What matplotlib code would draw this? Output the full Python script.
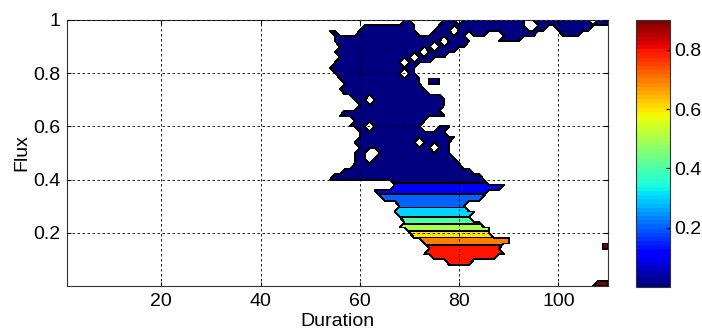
import numpy as np
import matplotlib
matplotlib.use("Agg")
import matplotlib.pyplot as plt
from matplotlib.colors import Normalize
from matplotlib.cm import ScalarMappable

plt.rcParams["font.family"] = ["Liberation Sans", "DejaVu Sans"]

# grid of the map
duration = np.arange(1, 111)
flux = np.round(np.arange(0.0, 1.0001, 0.02), 2)

# low-value body (first band): duration runs per flux row
body_value = 0.05
body_runs = {
    1.00: [(69, 70), (77, 110)],
    0.98: [(61, 71), (76, 110)],
    0.96: [(54, 55), (60, 71), (75, 97), (100, 106)],
    0.94: [(55, 85), (89, 95), (101, 104)],
    0.92: [(55, 82), (88, 92)],
    0.90: [(56, 81)],
    0.88: [(55, 79)],
    0.86: [(56, 77)],
    0.84: [(55, 74)],
    0.82: [(54, 71)],
    0.80: [(55, 71)],
    0.78: [(56, 72), (74, 76)],
    0.76: [(57, 72), (74, 76)],
    0.74: [(56, 73)],
    0.72: [(57, 76)],
    0.70: [(59, 77)],
    0.68: [(60, 77)],
    0.66: [(57, 76)],
    0.64: [(56, 77)],
    0.62: [(59, 73)],
    0.60: [(58, 72), (76, 78)],
    0.58: [(60, 77)],
    0.56: [(60, 79)],
    0.54: [(59, 78)],
    0.52: [(60, 78)],
    0.50: [(59, 78)],
    0.48: [(59, 79)],
    0.46: [(59, 80)],
    0.44: [(57, 82)],
    0.42: [(55, 84)],
    0.40: [(52, 85)],
}
# empty cells inside the body (duration, flux)
body_holes = [
    (80, 1.00), (94, 1.00), (107, 1.00),
    (94, 0.98), (95, 0.98),
    (79, 0.96), (82, 0.94),
    (77, 0.92), (75, 0.90), (73, 0.88), (71, 0.86), (69, 0.84), (69, 0.80),
    (62, 0.70), (62, 0.60), (72, 0.54), (75, 0.52),
    (62, 0.50), (63, 0.50), (62, 0.48),
]

# graded tail below flux 0.4
tail_flux = [0.38, 0.36, 0.34, 0.32, 0.30, 0.28, 0.26, 0.24,
             0.22, 0.20, 0.18, 0.16, 0.14, 0.12, 0.10, 0.08]
tail_left = [67, 62, 64, 65, 68, 66, 68, 69, 68, 70, 71, 73, 74, 73, 75, 78]
tail_right = [92, 88, 85, 84, 81, 83, 82, 84, 86, 86, 90, 90, 88, 91, 87, 82]
tail_value = [0.13, 0.17, 0.21, 0.26, 0.29, 0.33, 0.40, 0.47,
              0.55, 0.62, 0.71, 0.78, 0.84, 0.86, 0.85, 0.84]

# high spots on the right edge
spot_flux = [0.16, 0.14, 0.02, 0.00]
spot_left = [109, 109, 108, 106]
spot_right = [110, 110, 110, 110]
spot_value = [0.95, 0.95, 0.95, 0.95]

levels = [0.0, 0.1, 0.2, 0.3, 0.4, 0.5, 0.6, 0.7, 0.8, 0.9, 1.0]
cmax = 0.9

Z = np.full((flux.size, duration.size), np.nan)


def row(f):
    return int(np.argmin(np.abs(flux - f)))


for f, runs in body_runs.items():
    for x0, x1 in runs:
        Z[row(f), x0 - 1:x1] = body_value
for x, f in body_holes:
    Z[row(f), x - 1] = np.nan
for f, x0, x1, v in zip(tail_flux, tail_left, tail_right, tail_value):
    Z[row(f), x0 - 1:x1] = v
for f, x0, x1, v in zip(spot_flux, spot_left, spot_right, spot_value):
    Z[row(f), x0 - 1:x1] = v

cmap = plt.get_cmap("jet", 64)
norm = Normalize(0, cmax, clip=True)
fill_colors = [cmap(norm(l)) for l in levels[:-1]]

fig = plt.figure(figsize=(7.02, 3.36), dpi=100)
ax = fig.add_axes([67 / 702, 50 / 336, 541 / 702, 266 / 336])

cs = ax.contourf(duration, flux, np.ma.masked_invalid(Z), levels=levels, colors=fill_colors)
cs.set_edgecolor("k")
cs.set_linewidth(0.6)

ax.set_xlim(1, 110)
ax.set_ylim(0, 1)
ax.set_xticks([20, 40, 60, 80, 100])
ax.set_yticks([0.2, 0.4, 0.6, 0.8, 1.0])
ax.set_yticklabels(["0.2", "0.4", "0.6", "0.8", "1"])
ax.grid(True, color="k", linestyle=(0, (3, 3)), linewidth=0.6)
ax.set_axisbelow(False)
ax.tick_params(direction="in", length=3, labelsize=14, pad=5, top=True, right=True)
for s in ax.spines.values():
    s.set_linewidth(0.8)
    s.set_color("#333333")
ax.set_xlabel("Duration", fontsize=14, labelpad=2)
ax.set_ylabel("Flux", fontsize=14, labelpad=2)

cax = fig.add_axes([636 / 702, 49 / 336, 34 / 702, 267 / 336])
cb = fig.colorbar(ScalarMappable(norm=norm, cmap=cmap), cax=cax)
cb.set_ticks([0.2, 0.4, 0.6, 0.8])
cb.ax.tick_params(direction="in", length=3, labelsize=14, pad=3)
cb.outline.set_linewidth(0.8)
cb.outline.set_edgecolor("#333333")

fig.savefig("out.png", dpi=100)
